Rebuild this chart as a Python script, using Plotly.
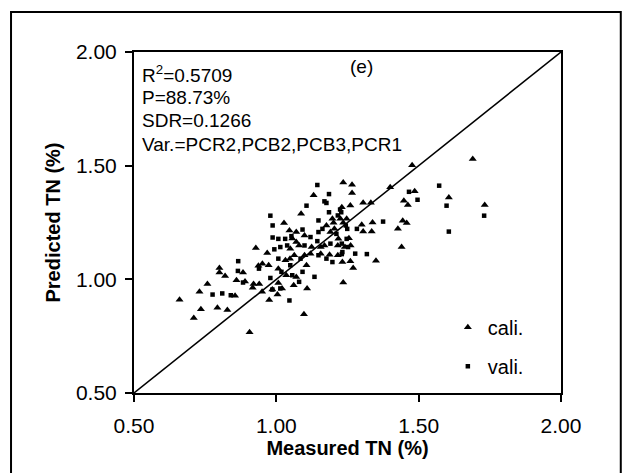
import plotly.graph_objects as go

# calibration set (triangles)
cali_x = [0.66, 0.71, 0.73, 0.735, 0.758, 0.793, 0.80, 0.80, 0.82, 0.828, 0.855, 0.86, 0.883, 0.89,
          0.906, 0.917, 0.92, 0.928, 0.937, 0.94, 0.95, 0.968, 0.975, 0.986, 1.027, 1.004, 1.02, 1.048,
          1.056, 1.07, 1.087, 1.097, 1.108, 1.131, 1.156, 1.235, 1.235, 1.266, 1.266, 1.26, 1.27, 1.26,
          1.30, 1.305, 1.305, 1.332, 1.338, 1.335, 1.35, 1.40, 1.427, 1.44, 1.444, 1.448, 1.458, 1.462,
          1.477, 1.486, 1.606, 1.69, 1.732,
          1.230, 1.197, 1.201, 1.225, 1.235, 1.247, 1.046, 1.070, 1.099, 1.176, 1.190, 1.204, 1.218,
          1.255, 1.070, 1.080, 1.049, 1.124, 1.156, 1.169, 1.216, 1.241, 1.261, 1.032, 1.063, 1.099,
          1.120, 1.187, 1.216, 1.232, 0.951, 0.973, 1.007, 1.035, 1.106, 1.007, 1.061]
cali_y = [0.91, 0.83, 0.945, 0.868, 0.979, 0.875, 1.05, 1.03, 1.015, 0.865, 0.928, 0.996, 1.03, 0.99,
          0.767, 0.963, 0.98, 1.138, 1.06, 0.98, 0.945, 1.116, 0.909, 0.955, 1.248, 0.933, 0.96, 1.09,
          1.18, 1.01, 1.288, 0.846, 0.96, 1.37, 1.113, 0.986, 1.426, 1.416, 1.38, 1.325, 1.05, 1.08,
          1.24, 1.21, 1.337, 1.337, 1.25, 1.21, 1.082, 1.405, 1.222, 1.142, 1.258, 1.346, 1.248, 1.327,
          1.502, 1.387, 1.36, 1.529, 1.327,
          1.317, 1.266, 1.249, 1.266, 1.249, 1.266, 1.215, 1.208, 1.193, 1.237, 1.208, 1.222, 1.178,
          1.181, 1.164, 1.149, 1.135, 1.142, 1.142, 1.149, 1.149, 1.142, 1.149, 1.084, 1.106, 1.106,
          1.113, 1.108, 1.106, 1.076, 1.069, 1.062, 1.047, 1.018, 1.062, 0.984, 0.974]

# validation set (squares)
vali_x = [0.776, 0.81, 0.84, 0.865, 0.866, 0.979, 0.987, 0.987, 0.993, 0.979, 1.046, 1.053, 1.106,
          1.144, 1.185, 1.185, 1.318, 1.375, 1.466, 1.496, 1.572, 1.598, 1.606, 1.73,
          1.169, 1.176, 1.228, 1.224, 1.148, 1.216, 1.244, 1.249, 1.007, 1.031, 1.092, 1.120, 1.148,
          1.162, 1.211, 1.247, 1.283, 1.038, 1.099, 1.014, 1.144, 1.190, 1.230, 1.232, 1.252, 1.007,
          1.049, 1.085, 1.148, 1.176, 1.197, 1.230, 1.277, 0.939, 1.018, 1.056, 1.092, 1.134, 0.986,
          1.014, 1.080, 0.883]
vali_y = [0.933, 0.938, 0.93, 1.037, 1.08, 1.28, 1.237, 1.184, 1.132, 1.006, 0.907, 1.19, 1.324,
          1.415, 1.375, 1.295, 1.111, 1.254, 1.385, 1.35, 1.412, 1.324, 1.21, 1.28,
          1.343, 1.336, 1.295, 1.307, 1.259, 1.281, 1.237, 1.222, 1.178, 1.178, 1.219, 1.186, 1.208,
          1.222, 1.200, 1.178, 1.222, 1.149, 1.149, 1.142, 1.168, 1.157, 1.157, 1.120, 1.142, 1.091,
          1.062, 1.091, 1.106, 1.091, 1.076, 1.111, 1.113, 1.047, 1.033, 1.018, 1.033, 1.011, 0.955,
          0.960, 0.989, 0.986]

ref_line = [0.5, 2.0]
tick_vals = [0.5, 1.0, 1.5, 2.0]
tick_text = ["0.50", "1.00", "1.50", "2.00"]
stats_lines = ["R<sup>2</sup>=0.5709", "P=88.73%", "SDR=0.1266", "Var.=PCR2,PCB2,PCB3,PCR1"]
stats_y = [1.905, 1.800, 1.698, 1.595]

FONT = "Liberation Sans, Arial, sans-serif"

fig = go.Figure()
fig.add_trace(go.Scatter(x=ref_line, y=ref_line, mode="lines",
                         line=dict(color="black", width=1.5), showlegend=False, hoverinfo="skip"))
fig.add_trace(go.Scatter(x=cali_x, y=cali_y, mode="markers", name="cali.", legendgroup="c",
                         marker=dict(symbol="triangle-up", size=7, color="black")))
fig.add_trace(go.Scatter(x=vali_x, y=vali_y, mode="markers", name="vali.", legendgroup="v",
                         marker=dict(symbol="square", size=4.5, color="black")))

for t, yv in zip(stats_lines, stats_y):
    fig.add_annotation(x=0.52, y=yv, text=t, showarrow=False, xanchor="left", yanchor="middle",
                       font=dict(family=FONT, size=19, color="black"))
fig.add_annotation(x=1.30, y=1.935, text="(e)", showarrow=False, xanchor="center", yanchor="middle",
                   font=dict(family=FONT, size=19, color="black"))

# outer frame
fig.add_shape(type="rect", xref="paper", yref="paper", x0=-0.288, x1=1.14, y0=-0.3, y1=1.117,
              line=dict(color="black", width=2), fillcolor="rgba(0,0,0,0)", layer="above")

axis_common = dict(range=[0.5, 2.0], tickvals=tick_vals, ticktext=tick_text, showgrid=False,
                   zeroline=False, showline=True, linecolor="black", linewidth=2, mirror=True,
                   ticks="outside", ticklen=7, tickwidth=1.5, tickcolor="black",
                   tickfont=dict(family=FONT, size=21, color="black"))

fig.update_layout(
    width=626, height=473,
    margin=dict(l=134, r=65, t=52, b=80),
    paper_bgcolor="white", plot_bgcolor="white",
    xaxis=dict(axis_common, ticklabelstandoff=6,
               title=dict(text="<b>Measured TN (%)</b>", standoff=2,
                          font=dict(family=FONT, size=20, color="black"))),
    yaxis=dict(axis_common, ticklabelstandoff=4,
               title=dict(text="<b>Predicted TN (%)</b>", standoff=10,
                          font=dict(family=FONT, size=20, color="black"))),
    legend=dict(x=0.735, y=0.25, xanchor="left", yanchor="top", bgcolor="rgba(0,0,0,0)",
                font=dict(family=FONT, size=20, color="black"), itemwidth=30, tracegroupgap=10),
    showlegend=True,
)

fig.write_html("out.html")
